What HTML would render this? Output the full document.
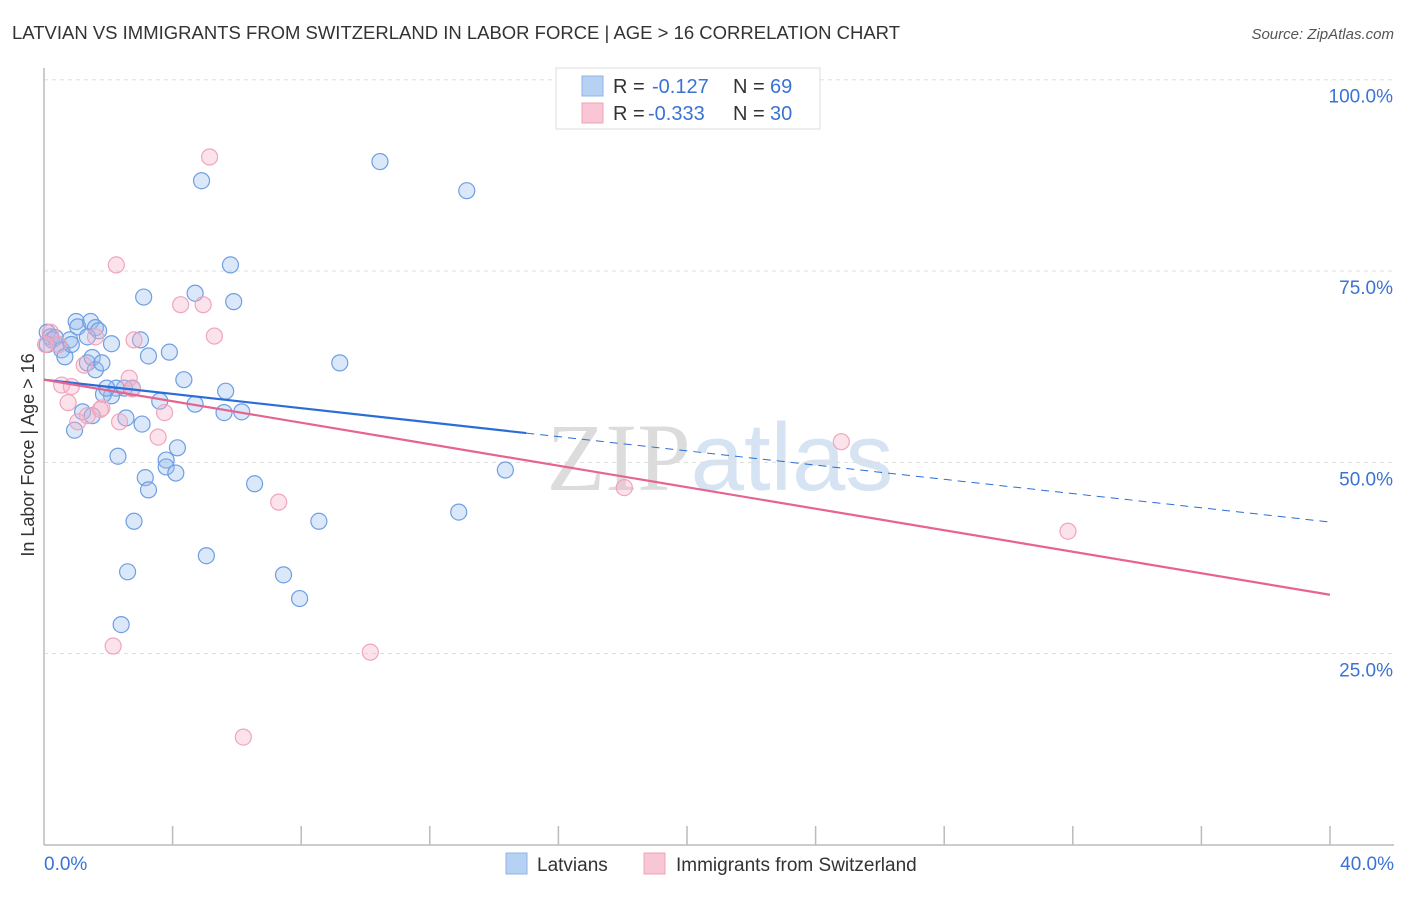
<!DOCTYPE html>
<html><head><meta charset="utf-8"><style>
body{margin:0;background:#fff;}
svg text{font-family:"Liberation Sans",sans-serif;}
</style></head><body>
<svg id="chart" width="1406" height="892" viewBox="0 0 1406 892" xmlns="http://www.w3.org/2000/svg">
<text x="12" y="39" font-size="18" fill="#333" textLength="888" lengthAdjust="spacingAndGlyphs">LATVIAN VS IMMIGRANTS FROM SWITZERLAND IN LABOR FORCE | AGE &gt; 16 CORRELATION CHART</text>
<text x="1394" y="39" font-size="15" fill="#555" text-anchor="end" font-style="italic">Source: ZipAtlas.com</text>
<text x="720" y="490" font-size="96" text-anchor="middle" fill="#e4e4e4"><tspan font-family="Liberation Serif" fill="#dcdcdc">ZIP</tspan><tspan fill="#d6e3f3">atlas</tspan></text>
<g id="grid"></g>
<g id="axes"></g>
<g id="marks"></g>
<text transform="translate(34,455) rotate(-90)" font-size="18" fill="#333" text-anchor="middle">In Labor Force | Age &gt; 16</text>
<g>
<rect x="556" y="68" width="264" height="61" fill="#fff" stroke="#ddd"/>
<rect x="582" y="76" width="21" height="20" fill="#b7d1f3" stroke="#8db4e8"/>
<rect x="582" y="103" width="21" height="20" fill="#f9c6d5" stroke="#f0a3bb"/>
<text x="613" y="93" font-size="20" fill="#333">R =</text>
<text x="652" y="93" font-size="20" fill="#3a73d4">-0.127</text>
<text x="733" y="93" font-size="20" fill="#333">N =</text>
<text x="770" y="93" font-size="20" fill="#3a73d4">69</text>
<text x="613" y="120" font-size="20" fill="#333">R =</text>
<text x="648" y="120" font-size="20" fill="#3a73d4">-0.333</text>
<text x="733" y="120" font-size="20" fill="#333">N =</text>
<text x="770" y="120" font-size="20" fill="#3a73d4">30</text>
</g>
<g>
<rect x="506" y="853" width="21" height="21" fill="#b7d1f3" stroke="#8db4e8"/>
<text x="537" y="871" font-size="19" fill="#333">Latvians</text>
<rect x="644" y="853" width="21" height="21" fill="#f9c6d5" stroke="#f0a3bb"/>
<text x="676" y="871" font-size="19" fill="#333">Immigrants from Switzerland</text>
</g>
</svg>
<script>
const yTicks=[100,75,50,25];
const xTickLabels=["0.0%","40.0%"];
const blueX=[0.1,0.2,0.25,0.35,0.1,0.45,0.55,0.65,0.8,0.85,1.0,1.05,1.45,1.6,1.7,1.35,1.35,1.5,1.6,1.8,2.1,3.0,3.25,3.1,3.9,4.35,4.7,5.9,5.8,4.9,10.45,13.15,9.2,5.65,4.7,5.6,6.15,3.6,2.5,2.25,2.1,1.85,2.75,1.95,1.2,1.5,2.55,3.05,0.95,2.3,4.15,3.8,3.8,4.1,3.15,3.25,6.55,14.35,12.9,8.55,2.8,5.05,2.6,7.45,7.95,2.4];
const blueY=[67.0,66.4,66.0,66.3,65.4,65.4,64.7,63.8,66.0,65.4,68.4,67.7,68.4,67.6,67.2,66.4,63.0,63.7,62.1,63.0,65.5,66.0,63.9,71.6,64.4,60.8,72.1,71.0,75.8,86.8,89.3,85.5,63.0,59.3,57.6,56.5,56.6,58.0,59.7,59.7,58.7,58.9,59.7,59.7,56.6,56.1,55.8,55.0,54.2,50.8,51.9,50.3,49.4,48.6,48.0,46.4,47.2,49.0,43.5,42.3,42.3,37.8,35.7,35.3,32.2,28.8];
const pinkX=[5.15,2.25,4.25,4.95,5.3,2.8,1.6,0.45,1.25,2.65,0.55,0.85,0.75,1.8,1.35,2.35,1.05,3.75,3.55,7.3,18.05,24.8,31.85,10.15,6.2,2.15,0.2,0.05,2.75,1.75];
const pinkY=[89.9,75.8,70.6,70.6,66.5,66.0,66.4,65.4,62.7,61.0,60.1,59.9,57.8,57.1,56.1,55.3,55.3,56.5,53.3,44.8,46.7,52.7,41.0,25.2,14.1,26.0,67.0,65.4,59.6,56.9];
const blueTrend=[60.8,42.2]; const blueSolidEnd=15.0;
const pinkTrend=[60.8,32.7];
const NS="http://www.w3.org/2000/svg";
const sx=v=>44+v/40*1286, sy=v=>845-v/100*765.3;
function mk(t,a,p){const e=document.createElementNS(NS,t);for(const k in a)e.setAttribute(k,a[k]);p.appendChild(e);return e;}
const grid=document.getElementById('grid'),axes=document.getElementById('axes'),marks=document.getElementById('marks');
yTicks.forEach(v=>{
 const l=mk('line',{x1:44,x2:1394,y1:sy(v),y2:sy(v),stroke:'#ddd','stroke-dasharray':'4,4'},grid);
 
 
 const t=mk('text',{x:1393,y:sy(v)+23,'font-size':19,fill:'#3a73d4','text-anchor':'end'},axes);
 t.textContent=v.toFixed(1)+'%';
 
 
});
mk('line',{x1:44,x2:44,y1:68,y2:845,stroke:'#bbb','stroke-width':1.5},axes);
mk('line',{x1:44,x2:1394,y1:845,y2:845,stroke:'#bbb','stroke-width':1.5},axes);
for(let i=1;i<=10;i++){const x=sx(i*4);mk('line',{x1:x,x2:x,y1:826,y2:845,stroke:'#bbb','stroke-width':1.5},axes);}
[[0,'start',44],[1,'end',1394]].forEach(([i,a,x])=>{const t=mk('text',{x:x,y:870,'font-size':19,fill:'#3a73d4','text-anchor':a},axes);t.textContent=xTickLabels[i];
 
 });
blueX.forEach((x,i)=>{const c=mk('circle',{cx:sx(x),cy:sy(blueY[i]),r:8,fill:'rgba(150,188,238,0.35)',stroke:'#6f9ee3','stroke-width':1.2},marks);
 
 });
pinkX.forEach((x,i)=>{const c=mk('circle',{cx:sx(x),cy:sy(pinkY[i]),r:8,fill:'rgba(245,175,198,0.35)',stroke:'#f0a5bd','stroke-width':1.2},marks);
 
 });
const by=x=>blueTrend[0]+(blueTrend[1]-blueTrend[0])*x/40;
const bl=mk('line',{x1:sx(0),y1:sy(blueTrend[0]),x2:sx(blueSolidEnd),y2:sy(by(blueSolidEnd)),stroke:'#2a6dd8','stroke-width':2.2},marks);


const bd=mk('line',{x1:sx(blueSolidEnd),y1:sy(by(blueSolidEnd)),x2:sx(40),y2:sy(blueTrend[1]),stroke:'#2a6dd8','stroke-width':1,'stroke-dasharray':'8,6'},marks);


const pl=mk('line',{x1:sx(0),y1:sy(pinkTrend[0]),x2:sx(40),y2:sy(pinkTrend[1]),stroke:'#e6648f','stroke-width':2.2},marks);


</script>
</body></html>
